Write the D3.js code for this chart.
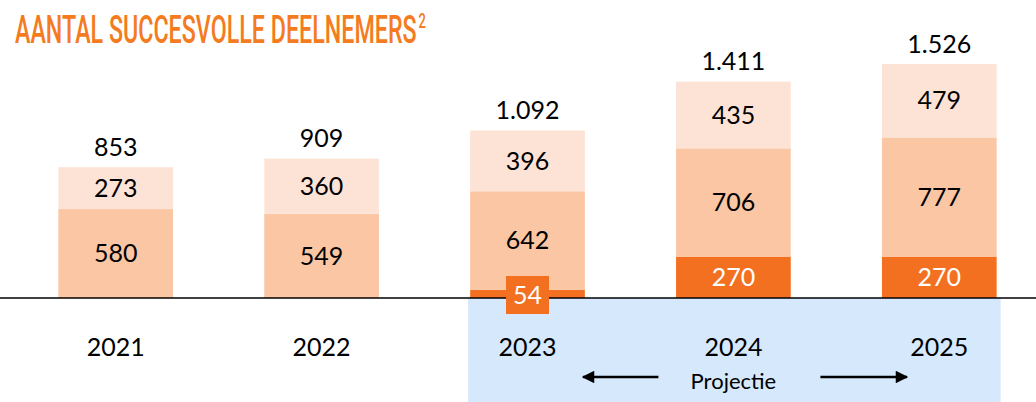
<!DOCTYPE html>
<html>
<head>
<meta charset="utf-8">
<script src="https://cdn.jsdelivr.net/npm/d3@7"></script>
<style>
  body { margin: 0; background: #fff; }
  svg { display: block; font-family: Lato, "Open Sans", sans-serif; }
</style>
</head>
<body>
<svg id="chart" width="1036" height="402"></svg>
<script>
// data
const years = ['2021', '2022', '2023', '2024', '2025'];
const darkVals = [0, 0, 54, 270, 270];
const midVals = [580, 549, 642, 706, 777];
const lightVals = [273, 360, 396, 435, 479];
const projYears = ['2023', '2024', '2025'];

const colors = { dark: '#F37021', mid: '#FAC6A4', light: '#FDE3D6', proj: '#D5E8FC' };

let svg = d3.select('#chart');
let width = 1036, height = 402;
let baseY = 298;

let nl = d3.formatLocale({ decimal: ',', thousands: '.', grouping: [3], currency: ['€', ''] });
let fmt = nl.format(',d');

let rows = years.map((yr, i) => ({ year: yr, dark: darkVals[i], mid: midVals[i], light: lightVals[i] }));
let keys = ['dark', 'mid', 'light'];
let series = d3.stack().keys(keys)(rows);

let x = d3.scaleBand()
  .domain(years)
  .range([11, 1044])
  .paddingInner(0.443)
  .paddingOuter(0.23);

let y = d3.scaleLinear()
  .domain([0, d3.max(rows, d => d.dark + d.mid + d.light)])
  .range([baseY, 64]);

// projection background
let px0 = x(projYears[0]) - 2;
let px1 = x(projYears[projYears.length - 1]) + x.bandwidth() + 4;
svg.append('rect')
  .attr('x', px0).attr('y', baseY)
  .attr('width', px1 - px0).attr('height', height - baseY)
  .attr('fill', colors.proj);

// title (condensed look by squeezing horizontally)
let titleG = svg.append('g');
let title = titleG.append('text')
  .attr('x', 0).attr('y', 0)
  .attr('fill', '#F47B20')
  .style('font-family', 'Roboto, sans-serif')
  .style('font-weight', 500)
  .style('font-size', '38px');
title.append('tspan').text('AANTAL SUCCESVOLLE DEELNEMERS');
title.append('tspan')
  .attr('dx', 3).attr('dy', -15)
  .style('font-size', '21px')
  .text('2');
let tw = title.node().getBBox().width;
titleG.attr('transform', `translate(15,43) scale(${411 / tw},1)`);

// bars
let layer = svg.selectAll('.layer')
  .data(series)
  .enter().append('g')
  .attr('class', 'layer')
  .attr('fill', d => colors[d.key]);

layer.selectAll('rect')
  .data(d => d)
  .enter().append('rect')
  .attr('x', d => x(d.data.year))
  .attr('y', d => y(d[1]))
  .attr('width', x.bandwidth())
  .attr('height', d => y(d[0]) - y(d[1]));

// axis line
svg.append('line')
  .attr('x1', 0).attr('x2', width)
  .attr('y1', baseY).attr('y2', baseY)
  .attr('stroke', '#000').attr('stroke-width', 1.5);

// segment labels
series.forEach(s => {
  s.forEach(d => {
    let v = d[1] - d[0];
    if (!v) return;
    let cx = x(d.data.year) + x.bandwidth() / 2;
    let cy = (y(d[0]) + y(d[1])) / 2;
    if (s.key === 'dark' && y(d[0]) - y(d[1]) < 30) {
      // small value gets its own box
      svg.append('rect')
        .attr('x', cx - 21.5).attr('y', baseY - 22)
        .attr('width', 43).attr('height', 38)
        .attr('fill', colors.dark);
      cy = baseY - 3;
    }
    svg.append('text')
      .attr('x', cx).attr('y', cy)
      .attr('dy', '0.35em')
      .attr('text-anchor', 'middle')
      .attr('fill', s.key === 'dark' ? '#fff' : '#000')
      .style('font-size', '25px')
      .text(fmt(v));
  });
});

// totals
rows.forEach(r => {
  let tot = r.dark + r.mid + r.light;
  svg.append('text')
    .attr('x', x(r.year) + x.bandwidth() / 2)
    .attr('y', y(tot) - 20)
    .attr('dy', '0.35em')
    .attr('text-anchor', 'middle')
    .style('font-size', '25px')
    .text(fmt(tot));
});

// year labels
svg.selectAll('.year')
  .data(years)
  .enter().append('text')
  .attr('class', 'year')
  .attr('x', d => x(d) + x.bandwidth() / 2)
  .attr('y', 347)
  .attr('dy', '0.35em')
  .attr('text-anchor', 'middle')
  .style('font-size', '25px')
  .text(d => d);

// projectie label with arrows
let midX = x('2024') + x.bandwidth() / 2;
svg.append('text')
  .attr('x', midX).attr('y', 381)
  .attr('dy', '0.35em')
  .attr('text-anchor', 'middle')
  .style('font-size', '22px')
  .text('Projectie');

svg.append('defs').append('marker')
  .attr('id', 'arrow')
  .attr('viewBox', '0 0 10 10')
  .attr('refX', 9).attr('refY', 5)
  .attr('markerWidth', 5.5).attr('markerHeight', 5)
  .attr('markerUnits', 'strokeWidth')
  .attr('orient', 'auto')
  .append('path')
  .attr('d', 'M0,0 L10,5 L0,10 z')
  .attr('fill', '#000');

[[midX - 75, 583], [midX + 87, 907]].forEach(a => {
  svg.append('line')
    .attr('x1', a[0]).attr('x2', a[1])
    .attr('y1', 377).attr('y2', 377)
    .attr('stroke', '#000').attr('stroke-width', 2.5)
    .attr('marker-end', 'url(#arrow)');
});
</script>
</body>
</html>
